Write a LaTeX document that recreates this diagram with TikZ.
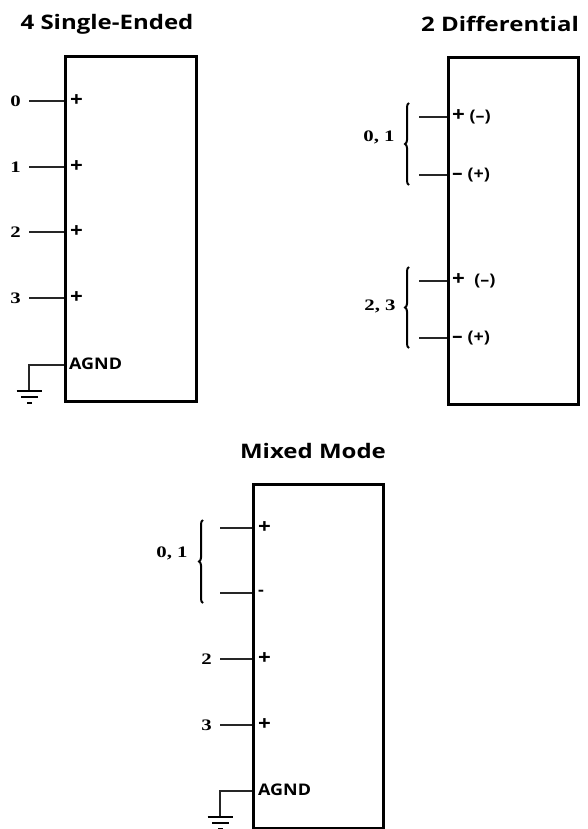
\documentclass[tikz,border=0pt]{standalone}
\usepackage{fontspec}
\usetikzlibrary{decorations.pathreplacing}
\newfontfamily\titf[FakeStretch=1.2,Ligatures=TeX]{Open Sans}
\newfontfamily\lab[FakeStretch=1.12,Ligatures=TeX]{Open Sans}
\newfontfamily\numf[FakeStretch=1.3]{Liberation Serif}
\newcommand\pl{{\fontsize{20}{20}\selectfont +}}
\newcommand\mn{{\fontsize{19}{19}\selectfont –}}
\tikzset{
  box/.style={draw, line width=2.8pt, inner sep=0pt, anchor=north west},
  wire/.style={line width=1.3pt, black!85},
  title/.style={font=\titf\bfseries\fontsize{20}{24}\selectfont, inner sep=0pt},
  pin/.style={font=\lab\bfseries\fontsize{16}{19}\selectfont, inner sep=0pt, anchor=west},
  num/.style={font=\numf\bfseries\fontsize{16}{18}\selectfont, inner sep=0pt},
  curly/.style={decorate, decoration={brace, amplitude=4pt}, line width=2pt},
  gnd/.style={line width=2.6pt}
}
\begin{document}
\begin{tikzpicture}[x=1pt, y=-1pt]
\useasboundingbox (0,0) rectangle (588,829);
% ---------- 4 Single-Ended ----------
\node[title] (t1) at (107,24) {4 Single-Ended};
\node[box, minimum width=131pt, minimum height=345pt] (b1) at (64,55) {};
\foreach \n/\y in {0/101,1/167,2/232,3/298}{
  \coordinate (s\n) at (29,\y);
  \coordinate (p\n) at (64,\y);
  \node[num, anchor=east] (n\n) at (21,\y) {\n};
  \node[pin] (l\n) at (70,\y) {\pl};
  \draw[wire] (s\n) -- (p\n);
}
\coordinate (ga) at (64,365);
\coordinate (gc) at (29,365);
\coordinate (gb) at (29,391);
\node[pin] (agnd1) at (69,364) {AGND};
\draw[wire] (ga) -- (gc) -- (gb);
\draw[gnd] (16.5,391) -- (42,391) (21,397) -- (37.5,397) (27,403) -- (32,403);
% ---------- 2 Differential ----------
\node[title] (t2) at (500,24) {2 Differential};
\node[box, minimum width=130pt, minimum height=347pt] (b2) at (447,56) {};
\foreach \k/\y/\t in {a/117/{\pl\ (–)},b/175/{\mn\ (+)},c/281/{\pl\ \ (–)},d/338/{\mn\ (+)}}{
  \coordinate (ds\k) at (419,\y);
  \coordinate (dp\k) at (447,\y);
  \draw[wire] (ds\k) -- (dp\k);
  \node[pin] (dl\k) at (452,\y) {\t};
}
\coordinate (br1b) at (409,185);
\coordinate (br1t) at (409,103);
\draw[curly] (br1b) -- (br1t);
\node[num, anchor=base] (g01) at (379,142) {0, 1};
\coordinate (br2b) at (409,348);
\coordinate (br2t) at (409,267);
\draw[curly] (br2b) -- (br2t);
\node[num, anchor=base] (g23) at (380,310) {2, 3};
% ---------- Mixed Mode ----------
\node[title] (t3) at (313,451) {Mixed Mode};
\node[box, minimum width=130pt, minimum height=344pt] (b3) at (252,483) {};
\foreach \k/\y/\t in {a/528/\pl,b/593/-,c/659/\pl,d/725/\pl}{
  \coordinate (ms\k) at (220,\y);
  \coordinate (mp\k) at (252,\y);
  \draw[wire] (ms\k) -- (mp\k);
  \node[pin] (ml\k) at (258,\y) {\t};
}
\node[num, anchor=east] (m2) at (212,659) {2};
\node[num, anchor=east] (m3) at (212,725) {3};
\coordinate (br3b) at (203,603);
\coordinate (br3t) at (203,520);
\draw[curly] (br3b) -- (br3t);
\node[num, anchor=base] (m01) at (172,557) {0, 1};
\coordinate (mga) at (252,791);
\coordinate (mgc) at (220,791);
\coordinate (mgb) at (220,817);
\node[pin] (agnd3) at (258,790) {AGND};
\draw[wire] (mga) -- (mgc) -- (mgb);
\draw[gnd] (207.5,817) -- (233,817) (212,823) -- (228.5,823) (218,829) -- (223,829);
\end{tikzpicture}
\end{document}
